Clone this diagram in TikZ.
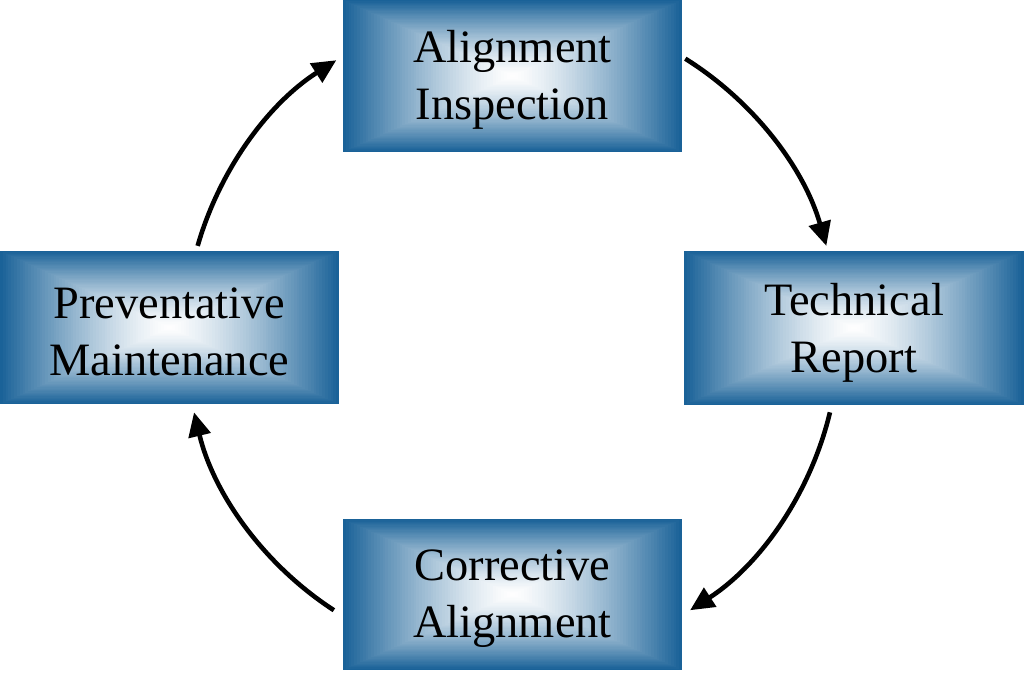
\documentclass[tikz,border=0pt]{standalone}
\usepackage{fontspec}
\setmainfont{Liberation Serif}
\usetikzlibrary{arrows.meta,calc}
\definecolor{boxblue}{RGB}{26,98,152}
\tikzset{
  label text/.style={align=center, inner sep=0pt, font=\fontsize{23.2}{28.5}\selectfont, text=black},
  conn/.style={line width=2.3pt, -{Triangle[length=12pt,width=11pt]}},
}
% \gradbox{cx}{cy}{halfw}{halfh}
\newcommand{\gradbox}[4]{%
  \foreach \i in {0,...,59}{%
    \pgfmathsetmacro{\s}{1-\i/60}%
    \pgfmathsetmacro{\p}{100*(\s^1.35)}%
    \fill[boxblue!\p!white] (#1-#3*\s,#2-#4*\s) rectangle (#1+#3*\s,#2+#4*\s);
  }%
}
\begin{document}
\begin{tikzpicture}[x=0.5pt,y=0.5pt]
\useasboundingbox (0,0) rectangle (1024,686);
% boxes (y measured upward: 686 - pixel y)
\gradbox{512.5}{610}{169.5}{76}
\gradbox{169.5}{358.5}{169.5}{76.5}
\gradbox{854}{358}{170}{77}
\gradbox{512.5}{91.5}{169.5}{75.5}
\node[label text] (ai) at (512.5,606) {Alignment\\Inspection};
\node[label text] (tr) at (854,353) {Technical\\Report};
\node[label text] (ca) at (512.5,87) {Corrective\\Alignment};
\node[label text] (pm) at (169.5,354) {Preventative\\Maintenance};
% cycle connectors (arcs of one circle)
\coordinate (O) at (512,350);
\coordinate (ai-out) at ($(O)+(58:327)$);
\coordinate (tr-out) at ($(O)+(-13.5:327)$);
\coordinate (ca-out) at ($(O)+(-123:327)$);
\coordinate (pm-out) at ($(O)+(164:327)$);
\draw[conn] (ai-out) arc[start angle=58, end angle=16, radius=327];
\draw[conn] (tr-out) arc[start angle=-13.5, end angle=-57, radius=327];
\draw[conn] (ca-out) arc[start angle=-123, end angle=-166.5, radius=327];
\draw[conn] (pm-out) arc[start angle=164, end angle=122.5, radius=327];
\end{tikzpicture}
\end{document}
